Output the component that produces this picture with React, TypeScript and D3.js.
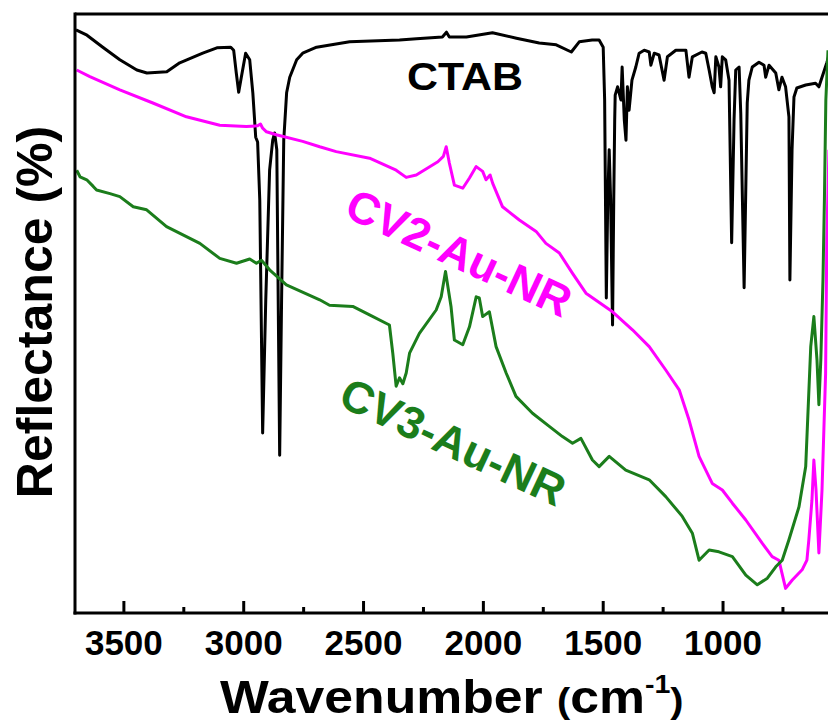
import { useMemo } from 'react'
import * as d3 from 'd3'

// wavenumber (cm-1) / reflectance (a.u.)
const ctabWave = [3700, 3654, 3588, 3517, 3446, 3404, 3321, 3267, 3171, 3112, 3054, 3042, 3031, 3021, 3010, 2992, 2975, 2962, 2950, 2942, 2933, 2921, 2908, 2892, 2879, 2871, 2862, 2850, 2842, 2833, 2821, 2808, 2779, 2754, 2696, 2558, 2350, 2279, 2171, 2154, 2142, 2071, 1962, 1862, 1767, 1696, 1633, 1600, 1546, 1517, 1500, 1494, 1487, 1481, 1475, 1469, 1461, 1456, 1452, 1450, 1440, 1426, 1421, 1412, 1405, 1399, 1392, 1380, 1364, 1350, 1329, 1308, 1301, 1287, 1267, 1246, 1232, 1197, 1155, 1142, 1128, 1088, 1072, 1058, 1045, 1037, 1030, 1017, 1010, 1003, 989, 975, 964, 954, 947, 933, 926, 912, 899, 892, 878, 850, 829, 822, 808, 780, 767, 754, 739, 725, 721, 712, 704, 692, 655, 614, 600, 567, 538]
const ctabRefl = [97.2, 96.3, 94.3, 92.2, 90.5, 90.0, 90.2, 91.7, 93.3, 94.2, 94.3, 93.8, 90.0, 86.8, 89.3, 93.3, 92.2, 86.7, 79.3, 78.5, 68.8, 30.0, 52.2, 73.8, 78.8, 80.0, 77.2, 26.3, 52.2, 78.8, 86.7, 89.3, 92.2, 93.3, 94.3, 95.2, 95.5, 95.7, 96.0, 96.8, 96.0, 96.0, 96.7, 95.8, 95.0, 94.7, 93.5, 95.2, 95.5, 95.5, 94.3, 85.5, 52.5, 68.8, 77.2, 68.8, 48.0, 68.8, 82.2, 86.3, 87.7, 85.5, 91.0, 82.2, 78.8, 87.7, 83.8, 88.8, 91.0, 93.3, 93.8, 93.5, 91.3, 93.3, 93.0, 88.8, 92.7, 93.8, 93.8, 89.3, 92.7, 93.5, 93.3, 90.5, 87.7, 86.7, 92.7, 91.0, 87.7, 92.7, 92.2, 88.8, 61.7, 82.2, 90.5, 91.0, 83.3, 54.2, 85.0, 88.8, 91.0, 91.8, 91.3, 89.3, 91.3, 90.0, 87.2, 89.3, 87.7, 82.7, 55.5, 77.2, 86.0, 87.5, 88.0, 88.3, 87.7, 91.7, 95.5]

const cv2Wave = [3697, 3642, 3517, 3379, 3239, 3100, 2989, 2942, 2930, 2921, 2905, 2864, 2754, 2683, 2614, 2475, 2364, 2322, 2280, 2190, 2167, 2155, 2142, 2121, 2086, 2058, 2030, 2003, 1989, 1972, 1961, 1920, 1850, 1780, 1739, 1683, 1628, 1572, 1461, 1378, 1308, 1239, 1183, 1142, 1100, 1045, 1003, 961, 905, 836, 795, 767, 739, 711, 670, 650, 642, 629, 621, 612, 600, 587, 572, 567, 558]
const cv2Refl = [90.5, 89.4, 87.2, 85.0, 82.7, 81.3, 81.1, 81.2, 81.5, 80.8, 80.2, 79.7, 78.6, 77.7, 76.9, 75.8, 73.8, 72.6, 73.0, 75.2, 76.1, 77.7, 75.0, 71.3, 70.8, 72.5, 74.4, 73.6, 72.2, 73.0, 71.6, 67.7, 65.5, 63.6, 61.6, 60.0, 56.6, 53.3, 50.2, 47.2, 44.4, 40.5, 37.2, 32.2, 26.1, 21.6, 20.5, 18.3, 15.5, 11.6, 9.4, 8.8, 4.1, 5.5, 7.2, 8.8, 12.2, 18.8, 25.5, 20.5, 10.0, 20.5, 39.9, 62.2, 77.2]

const cv3Wave = [3697, 3683, 3655, 3628, 3614, 3558, 3517, 3461, 3405, 3322, 3183, 3100, 3030, 2975, 2947, 2926, 2892, 2822, 2683, 2642, 2545, 2475, 2392, 2378, 2364, 2350, 2336, 2322, 2308, 2267, 2197, 2176, 2158, 2135, 2121, 2086, 2058, 2030, 2017, 2003, 1975, 1947, 1905, 1864, 1795, 1725, 1670, 1628, 1593, 1545, 1517, 1475, 1406, 1308, 1239, 1170, 1128, 1100, 1058, 1017, 961, 905, 857, 815, 780, 753, 725, 683, 655, 634, 621, 608, 600, 592, 583, 577, 571, 562]
const cv3Refl = [73.8, 72.7, 72.2, 71.1, 70.5, 69.9, 69.4, 67.7, 67.2, 64.4, 61.6, 59.1, 58.3, 59.0, 58.3, 58.8, 57.2, 54.7, 52.2, 51.3, 51.1, 49.7, 48.0, 43.3, 37.8, 39.2, 38.2, 40.0, 43.3, 46.6, 50.5, 52.7, 56.9, 51.1, 45.5, 44.7, 47.7, 52.7, 52.5, 49.4, 50.2, 44.4, 40.0, 36.1, 33.3, 31.1, 29.4, 28.3, 29.1, 25.5, 24.4, 26.1, 23.8, 22.2, 19.4, 16.1, 13.3, 8.8, 10.5, 10.2, 9.4, 6.3, 4.7, 5.8, 7.7, 8.8, 12.2, 17.7, 24.4, 44.4, 49.4, 42.2, 34.7, 42.2, 55.5, 68.8, 85.5, 93.8]

const majorTicks = [3500, 3000, 2500, 2000, 1500, 1000]
const minorTicks = [3250, 2750, 2250, 1750, 1250, 750]

const series = [
  { name: 'CTAB', wave: ctabWave, refl: ctabRefl, color: '#000000' },
  { name: 'CV2-Au-NR', wave: cv2Wave, refl: cv2Refl, color: '#ff00ff' },
  { name: 'CV3-Au-NR', wave: cv3Wave, refl: cv3Refl, color: '#1b7d1b' }
]

const font = 'Arial, "Liberation Sans", sans-serif'

const App = () => {
  const width = 828
  const height = 725
  const left = 75
  const right = 828
  const top = 14
  const bottom = 613

  // reversed wavenumber axis
  const x = useMemo(() => d3.scaleLinear().domain([3704, 562]).range([left, right]), [])
  const y = useMemo(() => d3.scaleLinear().domain([0, 100]).range([bottom, top - 1]), [])

  const line = d3
    .line<[number, number]>()
    .x((d) => x(d[0]))
    .y((d) => y(d[1]))

  return (
    <svg
      width={width}
      height={height}
      style={{ position: 'absolute', left: 0, top: 0, background: '#fff' }}
      fontFamily={font}
    >
      <defs>
        <clipPath id='plot'>
          <rect x={left} y={top} width={right - left} height={bottom - top} />
        </clipPath>
      </defs>

      <g clipPath='url(#plot)'>
        {series.map((s) => (
          <path
            key={s.name}
            d={line(s.wave.map((w, i) => [w, s.refl[i]])) || ''}
            fill='none'
            stroke={s.color}
            strokeWidth={3}
            strokeLinejoin='round'
          />
        ))}
      </g>

      {/* frame */}
      <line x1={left} x2={right} y1={top} y2={top} stroke='#000' strokeWidth={3} />
      <line x1={left} x2={left} y1={top - 1.5} y2={bottom + 1.5} stroke='#000' strokeWidth={3} />
      <line x1={left - 1.5} x2={right} y1={bottom} y2={bottom} stroke='#000' strokeWidth={3} />

      {majorTicks.map((t) => (
        <g key={t}>
          <line x1={x(t)} x2={x(t)} y1={bottom} y2={bottom - 12} stroke='#000' strokeWidth={3} />
          <text x={x(t)} y={655} textAnchor='middle' fontSize={35} fontWeight='bold'>
            {t}
          </text>
        </g>
      ))}
      {minorTicks.map((t) => (
        <line key={t} x1={x(t)} x2={x(t)} y1={bottom} y2={bottom - 6} stroke='#000' strokeWidth={3} />
      ))}

      {/* axis titles */}
      <text
        transform='translate(52,312) rotate(-90)'
        textAnchor='middle'
        fontSize={50}
        fontWeight='bold'
      >
        Reflectance (%)
      </text>
      <text transform='translate(220,713) scale(1.1,1)' fontSize={47} fontWeight='bold'>
        <tspan>Wavenumber </tspan>
        <tspan fontSize={36}>(</tspan>
        <tspan>cm</tspan>
        <tspan fontSize={26} dy={-20}>-1</tspan>
        <tspan fontSize={36} dy={20}>)</tspan>
      </text>

      {/* series labels */}
      <text
        transform='translate(407,90) scale(1.1,1)'
        fontSize={39}
        fontWeight='bold'
        fill='#000'
      >
        CTAB
      </text>
      <text
        transform='translate(459,253) rotate(25)'
        textAnchor='middle'
        dominantBaseline='central'
        fontSize={45}
        fontWeight='bold'
        fill='#ff00ff'
      >
        CV2-Au-NR
      </text>
      <text
        transform='translate(453,442) rotate(25)'
        textAnchor='middle'
        dominantBaseline='central'
        fontSize={45}
        fontWeight='bold'
        fill='#1b7d1b'
      >
        CV3-Au-NR
      </text>
    </svg>
  )
}

export default App
